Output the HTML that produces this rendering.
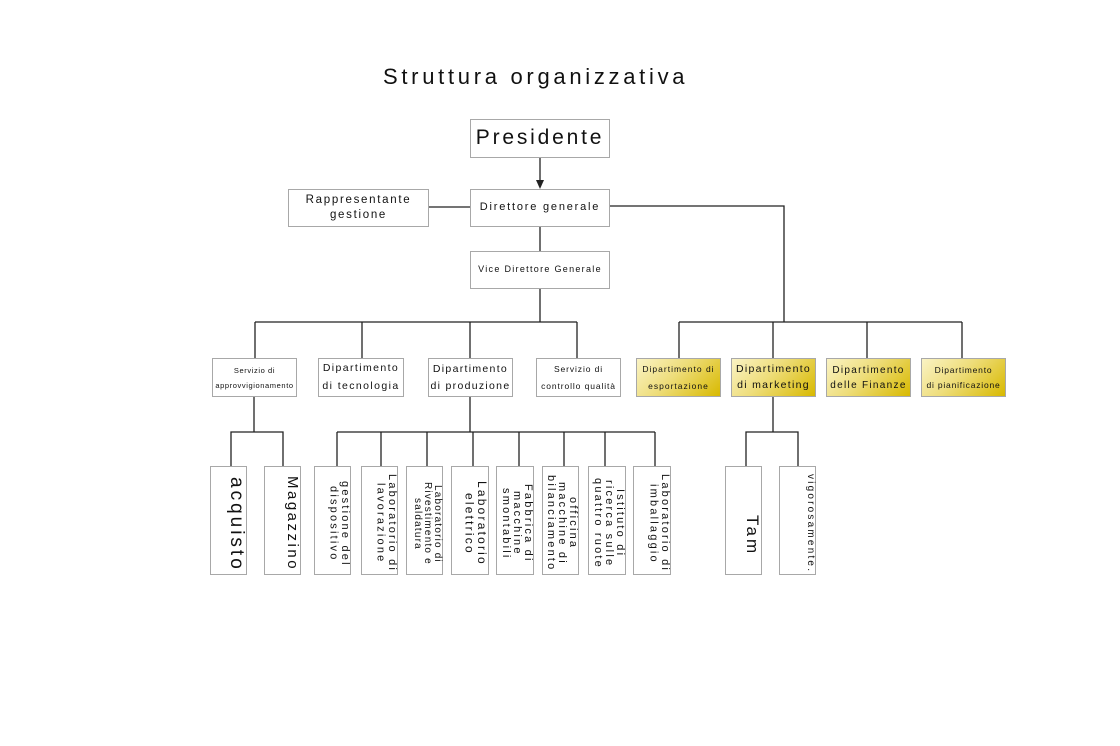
<!DOCTYPE html>
<html><head><meta charset="utf-8"><style>
body{margin:0;width:1120px;height:746px;background:#fff;position:relative;overflow:hidden;font-family:"Liberation Sans","DejaVu Sans",sans-serif;color:#111}
.b{position:absolute;box-sizing:border-box;border:1px solid #a8a8a8;background:#fff;display:flex;align-items:center;justify-content:center;text-align:center;line-height:1.45}
.g{background:linear-gradient(135deg,#faf3c4 0%,#eedd7a 45%,#d8b900 100%)}
.v{writing-mode:vertical-rl;align-items:flex-start;justify-content:center;padding-top:6px;font-size:11px;letter-spacing:2.2px;line-height:1.05}
svg{position:absolute;left:0;top:0}
</style></head><body>
<svg width="1120" height="746"><g stroke="#222" stroke-width="1.3" fill="none">
<line x1="540" y1="157" x2="540" y2="182"/>
<line x1="428" y1="207" x2="470" y2="207"/>
<polyline points="609,206 784,206 784,322"/>
<line x1="540" y1="226" x2="540" y2="251"/>
<line x1="540" y1="288" x2="540" y2="322"/>
<line x1="255" y1="322" x2="577" y2="322"/>
<line x1="679" y1="322" x2="962" y2="322"/>
<line x1="255" y1="322" x2="255" y2="358"/><line x1="362" y1="322" x2="362" y2="358"/>
<line x1="470" y1="322" x2="470" y2="358"/><line x1="577" y1="322" x2="577" y2="358"/>
<line x1="679" y1="322" x2="679" y2="358"/><line x1="773" y1="322" x2="773" y2="358"/>
<line x1="867" y1="322" x2="867" y2="358"/><line x1="962" y1="322" x2="962" y2="358"/>
<line x1="254" y1="396" x2="254" y2="432"/><polyline points="231,466 231,432 283,432 283,466"/>
<line x1="470" y1="396" x2="470" y2="432"/><line x1="337" y1="432" x2="655" y2="432"/>
<line x1="337" y1="432" x2="337" y2="466"/><line x1="381" y1="432" x2="381" y2="466"/>
<line x1="427" y1="432" x2="427" y2="466"/><line x1="473" y1="432" x2="473" y2="466"/>
<line x1="519" y1="432" x2="519" y2="466"/><line x1="564" y1="432" x2="564" y2="466"/>
<line x1="605" y1="432" x2="605" y2="466"/><line x1="655" y1="432" x2="655" y2="466"/>
<line x1="773" y1="396" x2="773" y2="432"/><polyline points="746,466 746,432 798,432 798,466"/>
</g><polygon points="536,180 544,180 540,189" fill="#222"/></svg>
<div style="position:absolute;left:383px;top:64px;font-size:22px;letter-spacing:3.7px;white-space:nowrap">Struttura organizzativa</div>
<div class="b" style="left:470px;top:119px;width:140px;height:39px;font-size:21px;letter-spacing:2.8px">Presidente</div>
<div class="b" style="left:288px;top:189px;width:141px;height:38px;font-size:11.5px;letter-spacing:1.7px;line-height:1.3">Rappresentante<br>gestione</div>
<div class="b" style="left:470px;top:189px;width:140px;height:38px;font-size:11px;letter-spacing:1.8px">Direttore generale</div>
<div class="b" style="left:470px;top:251px;width:140px;height:38px;font-size:9px;letter-spacing:1.3px">Vice Direttore Generale</div>
<div class="b" style="left:212px;top:358px;width:85px;height:39px;font-size:7.5px;letter-spacing:0.6px;line-height:2">Servizio di<br>approvvigionamento</div>
<div class="b" style="left:318px;top:358px;width:86px;height:39px;font-size:10.5px;letter-spacing:1.4px;line-height:1.7">Dipartimento<br>di tecnologia</div>
<div class="b" style="left:428px;top:358px;width:85px;height:39px;font-size:10.5px;letter-spacing:1.3px;line-height:1.6">Dipartimento<br>di produzione</div>
<div class="b" style="left:536px;top:358px;width:85px;height:39px;font-size:8.5px;letter-spacing:0.9px;line-height:2">Servizio di<br>controllo qualità</div>
<div class="b g" style="left:636px;top:358px;width:85px;height:39px;font-size:8.5px;letter-spacing:1px;line-height:2">Dipartimento di<br>esportazione</div>
<div class="b g" style="left:731px;top:358px;width:85px;height:39px;font-size:10.5px;letter-spacing:1.3px;line-height:1.5">Dipartimento<br>di marketing</div>
<div class="b g" style="left:826px;top:358px;width:85px;height:39px;font-size:10px;letter-spacing:1.3px;line-height:1.5">Dipartimento<br>delle Finanze</div>
<div class="b g" style="left:921px;top:358px;width:85px;height:39px;font-size:8.5px;letter-spacing:0.8px;line-height:1.7">Dipartimento<br>di pianificazione</div>
<div class="b v" style="left:210px;top:466px;width:37px;height:109px;font-size:19px;letter-spacing:3px;padding-top:8px">acquisto</div>
<div class="b v" style="left:264px;top:466px;width:37px;height:109px;font-size:15px;letter-spacing:2.5px">Magazzino</div>
<div class="b v" style="left:314px;top:466px;width:37px;height:109px">gestione del dispositivo</div>
<div class="b v" style="left:361px;top:466px;width:37px;height:109px">Laboratorio di lavorazione</div>
<div class="b v" style="left:406px;top:466px;width:37px;height:109px;font-size:10px;letter-spacing:1.2px;line-height:1">Laboratorio di Rivestimento e saldatura</div>
<div class="b v" style="left:451px;top:466px;width:38px;height:109px;font-size:12px">Laboratorio elettrico</div>
<div class="b v" style="left:496px;top:466px;width:38px;height:109px;line-height:1">Fabbrica di macchine smontabili</div>
<div class="b v" style="left:542px;top:466px;width:37px;height:109px;line-height:1">officina macchine di bilanciamento</div>
<div class="b v" style="left:588px;top:466px;width:38px;height:109px;line-height:1">Istituto di ricerca sulle quattro ruote</div>
<div class="b v" style="left:633px;top:466px;width:38px;height:109px">Laboratorio di imballaggio</div>
<div class="b v" style="left:725px;top:466px;width:37px;height:109px;font-size:17px;letter-spacing:3px;padding-top:30px">Tam</div>
<div class="b v" style="left:779px;top:466px;width:37px;height:109px;font-size:10px">vigorosamente.</div>
</body></html>
